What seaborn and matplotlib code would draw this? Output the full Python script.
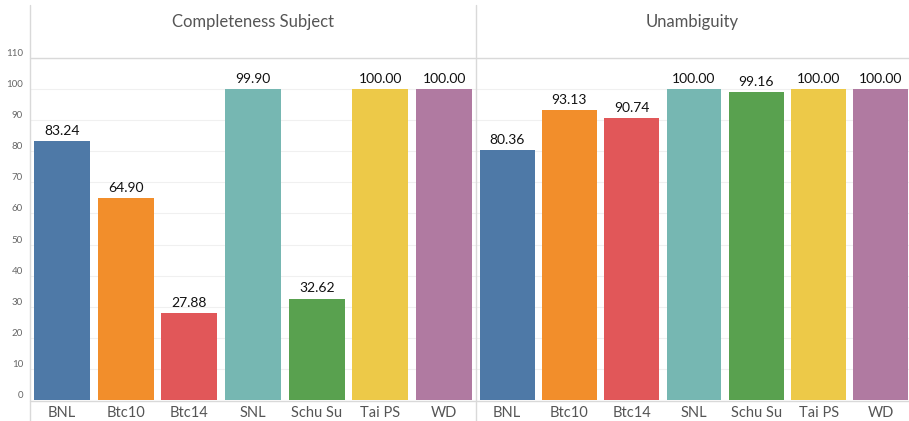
import matplotlib
matplotlib.use("Agg")
import matplotlib.pyplot as plt
import seaborn as sns
import pandas as pd
from matplotlib.lines import Line2D

categories = ["BNL", "Btc10", "Btc14", "SNL", "Schu Su", "Tai PS", "WD"]
completeness = [83.24, 64.90, 27.88, 99.90, 32.62, 100.00, 100.00]
unambiguity = [80.36, 93.13, 90.74, 100.00, 99.16, 100.00, 100.00]
panel_titles = ["Completeness Subject", "Unambiguity"]
yticks = list(range(0, 111, 10))
colors = ["#4e79a7", "#f28e2b", "#e15759", "#76b7b2", "#59a14f", "#edc948", "#b07aa1"]

sns.set_theme(style="white")
plt.rcParams["font.family"] = ["Lato", "DejaVu Sans"]

W, H = 909, 421
fig = plt.figure(figsize=(W / 100, H / 100), dpi=100)

def rect(x0, y0, x1, y1):
    return [x0 / W, 1 - y1 / H, (x1 - x0) / W, (y1 - y0) / H]

panels = [(30, 476, completeness), (476, 912, unambiguity)]
line_col = "#d9d9d9"

for i, ((x0, x1, vals), title) in enumerate(zip(panels, panel_titles)):
    ax = fig.add_axes(rect(x0, 58, x1, 400))
    df = pd.DataFrame({"cat": categories, "val": vals})
    sns.barplot(data=df, x="cat", y="val", hue="cat", palette=colors,
                legend=False, width=0.88, saturation=1, linewidth=0, ax=ax)
    ax.set_ylim(0, 110)
    ax.set_xlim(-0.5, 6.5)
    ax.set_xlabel("")
    ax.set_ylabel("")
    ax.set_yticks(yticks)
    ax.yaxis.grid(True, color="#f0f0f0", linewidth=0.8)
    ax.set_axisbelow(True)
    for s in ax.spines.values():
        s.set_visible(False)
    ax.tick_params(axis="x", length=0, pad=4, labelsize=10.5, labelcolor="#555555")
    if i == 0:
        ax.tick_params(axis="y", length=0, pad=5, labelsize=7, labelcolor="#666666")
        for lab in ax.get_yticklabels():
            lab.set_verticalalignment("bottom")
    else:
        ax.tick_params(axis="y", left=False, labelleft=False)
    for c in ax.containers:
        ax.bar_label(c, fmt="%.2f", padding=3, fontsize=10, color="#111111")
    # header
    hax = fig.add_axes(rect(x0, 5, min(x1, W), 58))
    hax.set_axis_off()
    hax.text(0.5, 0.68, title, ha="center", va="center", fontsize=12,
             color="#555555", transform=hax.transAxes)

# frame lines
def hline(y, x0, x1):
    fig.add_artist(Line2D([x0 / W, x1 / W], [1 - y / H, 1 - y / H],
                          color=line_col, linewidth=1))

def vline(x, y0, y1):
    fig.add_artist(Line2D([x / W, x / W], [1 - y0 / H, 1 - y1 / H],
                          color=line_col, linewidth=1))

hline(58, 30, 909)
hline(401, 30, 909)
vline(30, 5, 421)
vline(476, 5, 421)

fig.savefig("out.png", dpi=100, facecolor="white")
